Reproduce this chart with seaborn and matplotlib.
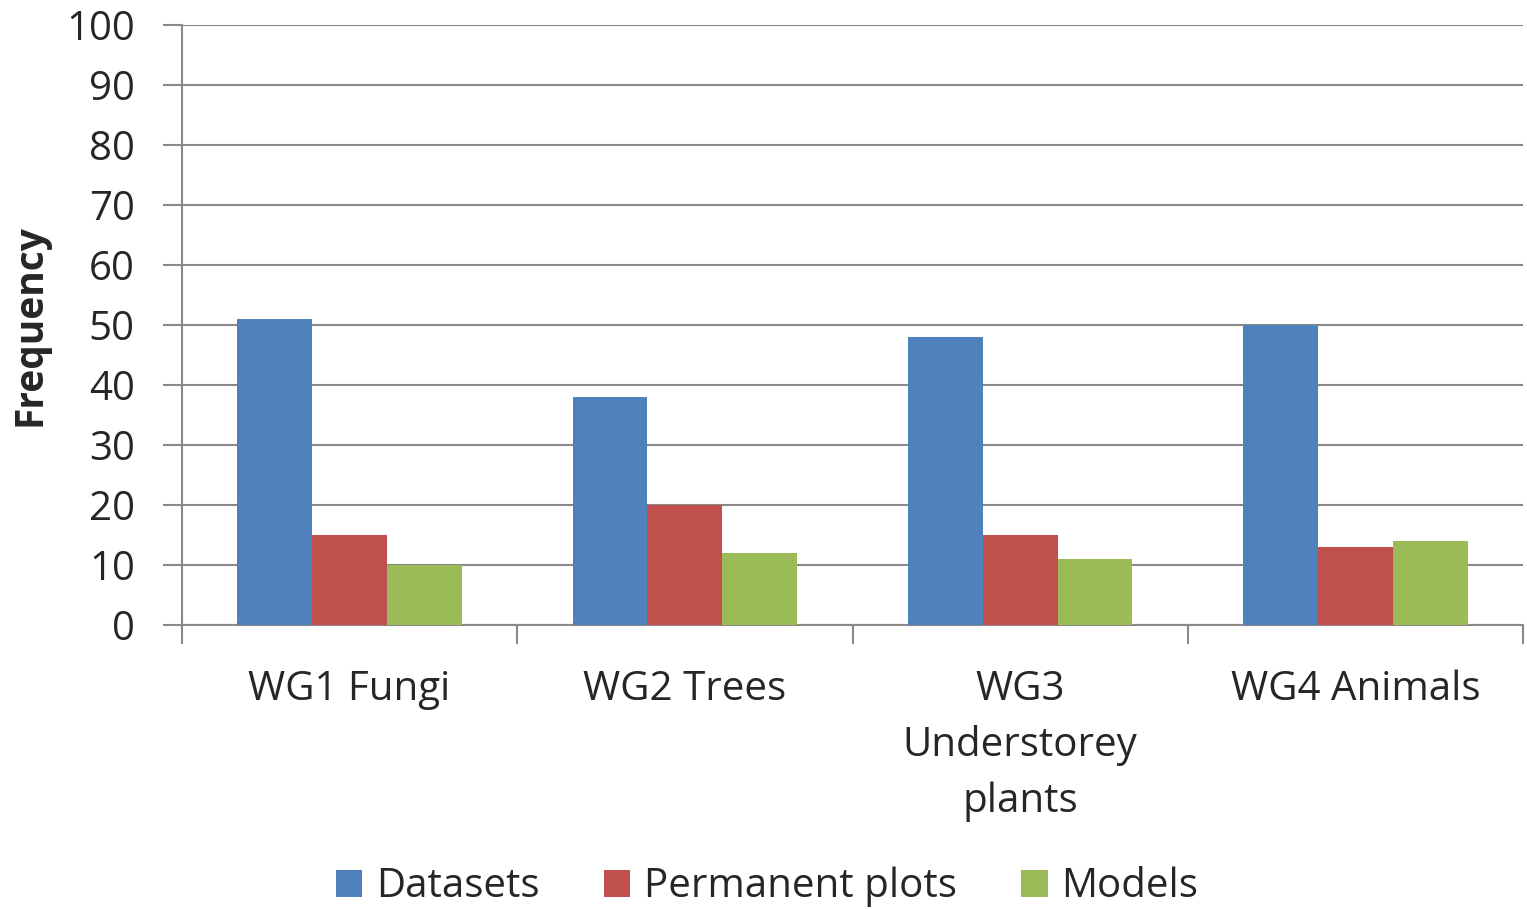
import pandas as pd
import numpy as np
import matplotlib
matplotlib.use('Agg')
import matplotlib.pyplot as plt
import seaborn as sns

sns.set_theme(style='white')
plt.rcParams['font.family'] = ['Open Sans', 'DejaVu Sans']

# data
groups = ['WG1 Fungi', 'WG2 Trees', 'WG3\nUnderstorey\nplants', 'WG4 Animals']
series = ['Datasets', 'Permanent plots', 'Models']
datasets = [51, 38, 48, 50]
permanent_plots = [15, 20, 15, 13]
models = [10, 12, 11, 14]
colors = ['#4F81BD', '#C0504D', '#9BBB59']

df = pd.DataFrame({'group': groups * 3,
                   'series': [s for s in series for _ in groups],
                   'value': datasets + permanent_plots + models})

fig = plt.figure(figsize=(15.27, 9.09), dpi=100)
ax = fig.add_axes([182/1527, 1 - 625/909, (1523-182)/1527, 600/909])

sns.barplot(data=df, x='group', y='value', hue='series', palette=colors,
            width=0.67, gap=0, saturation=1, linewidth=0, ax=ax, zorder=3)

grid_col = '#898989'
ax.set_ylim(0, 100)
ax.set_xlim(-0.5, 3.5)
ax.set_yticks(range(0, 101, 10))
ax.yaxis.grid(True, color=grid_col, linewidth=1.5, zorder=0)
for s in ['top', 'right']:
    ax.spines[s].set_visible(False)
for s in ['left', 'bottom']:
    ax.spines[s].set_color(grid_col)
    ax.spines[s].set_linewidth(1.5)

# tick marks at category boundaries
ax.set_xticks(np.arange(-0.5, 4, 1), minor=True)
ax.tick_params(axis='x', which='minor', length=14, width=1.5, color=grid_col, direction='out', bottom=True)
ax.tick_params(axis='x', which='major', length=0, pad=32, labelsize=29)
ax.tick_params(axis='y', length=14, width=1.5, color=grid_col, direction='out', left=True, pad=20, labelsize=29)
for lab in ax.get_xticklabels():
    lab.set_linespacing(1.5)
    lab.set_verticalalignment('top')

ax.set_xlabel('')
ax.set_ylabel('Frequency', fontsize=28, fontweight='bold', labelpad=12)

ax.legend(loc='center', bbox_to_anchor=(585/1341, -262/600), ncol=3, frameon=False,
          fontsize=29, handlelength=0.65, handleheight=0.65, handletextpad=0.35, columnspacing=1.6)

fig.savefig('out.png', dpi=100)
